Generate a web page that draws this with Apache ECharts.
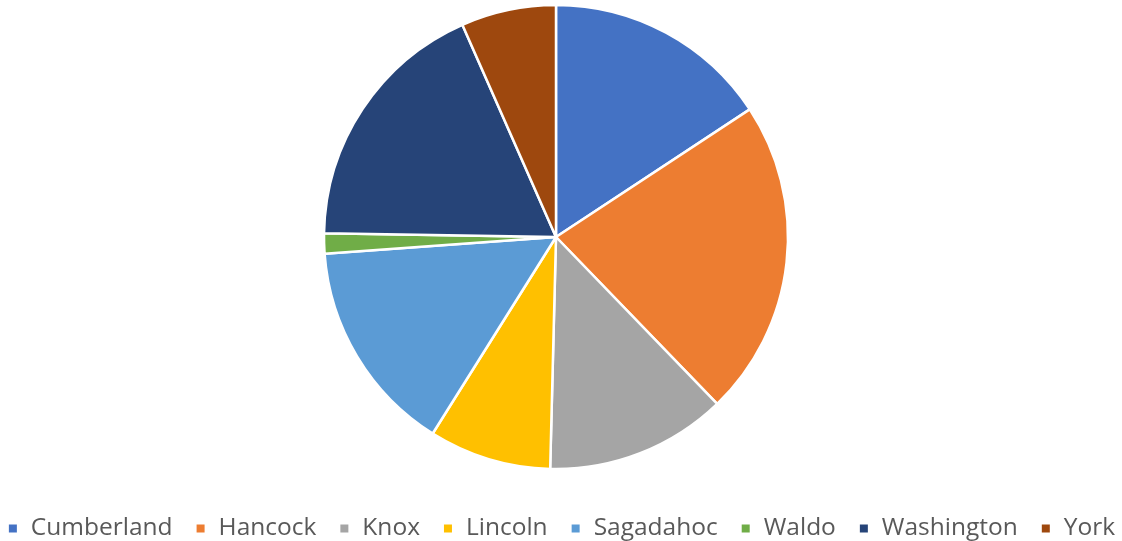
<!DOCTYPE html>
<html>
<head>
<meta charset="utf-8">
<script src="https://cdn.jsdelivr.net/npm/echarts@6/dist/echarts.min.js"></script>
<style>
  html, body { margin: 0; padding: 0; background: #ffffff; }
  #chart { width: 1122px; height: 541px; }
</style>
</head>
<body>
<div id="chart"></div>
<script>
// Share by county
const counties = ['Cumberland', 'Hancock', 'Knox', 'Lincoln', 'Sagadahoc', 'Waldo', 'Washington', 'York'];
const shares = [15.7, 22.0, 12.6, 8.5, 14.9, 1.4, 18.1, 6.6];
const colors = ['#4472C4', '#ED7D31', '#A5A5A5', '#FFC000', '#5B9BD5', '#70AD47', '#264478', '#9E480E'];

const chart = echarts.init(document.getElementById('chart'), null, { renderer: 'canvas' });
chart.setOption({
  animation: false,
  color: colors,
  legend: {
    data: counties,
    top: 511,
    left: 'center',
    icon: 'rect',
    itemWidth: 10,
    itemHeight: 10,
    itemGap: 22,
    textStyle: { color: '#595959', fontSize: 24.5, fontFamily: 'Open Sans', padding: [0, 0, 0, 8] }
  },
  series: [{
    type: 'pie',
    center: [556, 237],
    radius: 232,
    startAngle: 90,
    clockwise: true,
    label: { show: false },
    labelLine: { show: false },
    itemStyle: { borderColor: '#ffffff', borderWidth: 2.5 },
    emphasis: { disabled: true },
    data: counties.map((name, i) => ({ name, value: shares[i] }))
  }]
});
</script>
</body>
</html>
